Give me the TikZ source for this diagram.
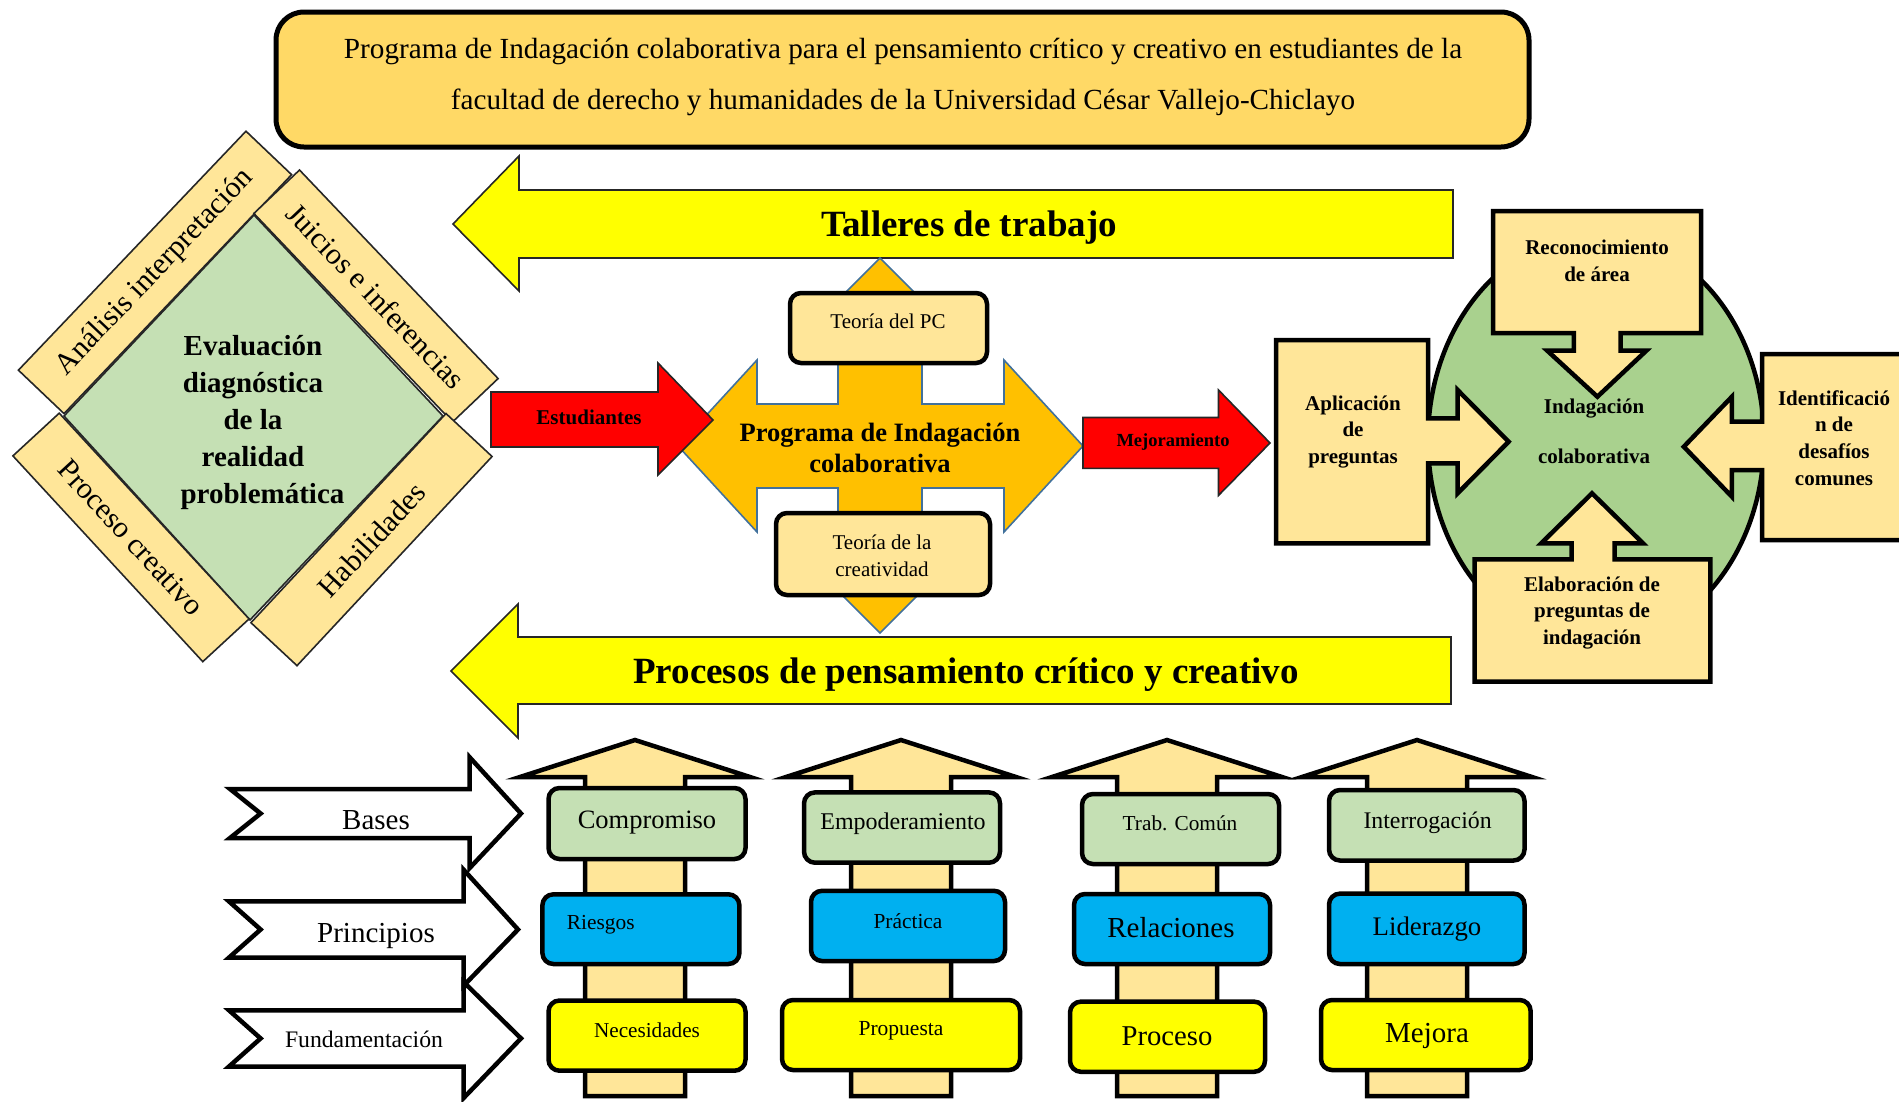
\documentclass[tikz,border=0pt]{standalone}
\usepackage{fontspec}
\setmainfont{Liberation Serif}
\usepackage{tikz}
\usetikzlibrary{positioning}
\definecolor{titlefill}{HTML}{FFD966}
\definecolor{band}{HTML}{FFE699}
\definecolor{banner}{HTML}{FFFF00}
\definecolor{cross}{HTML}{FFC000}
\definecolor{crossline}{HTML}{41719C}
\definecolor{alert}{HTML}{FF0000}
\definecolor{sage}{HTML}{C5E0B4}
\definecolor{leaf}{HTML}{A9D18E}
\definecolor{sky}{HTML}{00B0F0}
\tikzset{
  outline/.style={draw=black!85, line width=1.6pt},
  heavy/.style={draw=black, line width=4.5pt},
  strip/.style={outline, fill=band, minimum height=63pt, inner sep=0pt, font=\fontsize{30}{36}\selectfont},
  roundbox/.style={heavy, rounded corners=11pt},
  calltext/.style={align=center, font=\bfseries\fontsize{21}{26.6}\selectfont},
}

\begin{document}
\begin{tikzpicture}[x=1pt, y=-1pt]
  \useasboundingbox (0,0) rectangle (1899,1101);

  % ---------- Title ----------

  \draw[line width=5pt, fill=titlefill, rounded corners=28pt] (276,12) rectangle (1529,147);
  \node[align=center, font=\fontsize{29.2}{51}\selectfont] at (903,77) (title) {Programa de Indagación colaborativa para el pensamiento crítico y creativo en estudiantes de la\\facultad de derecho y humanidades de la Universidad César Vallejo-Chiclayo};

  % ---------- Banners ----------

  % Shapes
  \draw[outline, fill=banner] (453,224) -- (519,156) -- (519,190) -- (1453,190) -- (1453,258) -- (519,258) -- (519,291) -- cycle;
  \draw[outline, fill=banner] (451,671) -- (518,604) -- (518,637) -- (1451,637) -- (1451,704) -- (518,704) -- (518,738) -- cycle;

  % Labels
  \node[font=\bfseries\fontsize{37}{44}\selectfont] at (969,228) (talleres) {Talleres de trabajo};
  \node[font=\bfseries\fontsize{37}{44}\selectfont] at (966,675) (procesos) {Procesos de pensamiento crítico y creativo};

  % ---------- Left side (diamond) ----------

  % Shapes
  \draw[outline, fill=sage] (254,215) -- (443,416) -- (250,620) -- (64,416) -- cycle;
  \node[strip, rotate=46.4, minimum width=330pt] at (155,272.4) (analisis) {Análisis interpretación};
  \node[strip, rotate=-46.4, minimum width=288pt] at (376,296) (juicios) {Juicios e inferencias};
  \node[strip, rotate=-47.3, minimum width=280pt] at (131,537.4) (creativo) {Proceso creativo};
  \node[strip, rotate=47, minimum width=286pt] at (371.5,539.6) (habilidades) {Habilidades};

  % Labels
  \node[align=center, font=\bfseries\fontsize{29}{37}\selectfont] at (253,423) (evaluacion) {Evaluación\\diagnóstica\\de la\\realidad\\\hspace*{19pt}problemática};

  % ---------- Middle (programa) ----------

  % Shapes
  \draw[line width=1.6pt, draw=crossline, fill=cross] (678,446) -- (757,360) -- (757,404) -- (838,404) -- (838,344) -- (794,344) -- (880,258) -- (966,344) -- (922,344) -- (922,404) -- (1004,404) -- (1004,360) -- (1083,446) -- (1004,532) -- (1004,488) -- (922,488) -- (922,547) -- (966,547) -- (880,633) -- (794,547) -- (838,547) -- (838,488) -- (757,488) -- (757,532) -- cycle;
  \draw[roundbox, fill=band] (790,293) rectangle (987,363);
  \draw[roundbox, fill=band] (776,513) rectangle (990,595);
  \draw[outline, fill=alert] (491,392) -- (658,392) -- (658,363) -- (713,420) -- (658,475) -- (658,447) -- (491,447) -- cycle;
  \draw[outline, fill=alert] (1083,417.5) -- (1218.5,417.5) -- (1218.5,390) -- (1270,443) -- (1218.5,495.4) -- (1218.5,468.4) -- (1083,468.4) -- cycle;

  % Labels
  \node[align=center, font=\bfseries\fontsize{26.5}{31}\selectfont] at (880,448) (programa) {Programa de Indagación\\colaborativa};
  \node[font=\fontsize{21}{26}\selectfont] at (888,321) (teoriapc) {Teoría del PC};
  \node[align=center, font=\fontsize{21}{26.5}\selectfont] at (882,556) (teoriacre) {Teoría de la\\creatividad};
  \node[font=\bfseries\fontsize{21}{26}\selectfont] at (589,417) (estudiantes) {Estudiantes};
  \node[font=\bfseries\fontsize{18.5}{23}\selectfont] at (1173,442) (mejoramiento) {Mejoramiento};

  % ---------- Right side (indagacion) ----------

  % Shapes
  \draw[heavy, fill=leaf] (1596,440) ellipse [x radius=168pt, y radius=205pt];
  \draw[heavy, fill=band] (1493,211) -- (1701,211) -- (1701,333) -- (1620.6,333) -- (1620.6,350.7) -- (1646.3,350.7) -- (1597.4,396.7) -- (1547.3,350.7) -- (1573.8,350.7) -- (1573.8,333) -- (1493,333) -- cycle;
  \draw[heavy, fill=band] (1276,340) -- (1428,340) -- (1428,418.3) -- (1457.6,418.3) -- (1457.6,390) -- (1508.6,441.7) -- (1457.6,493.3) -- (1457.6,463.3) -- (1428,463.3) -- (1428,543.3) -- (1276,543.3) -- cycle;
  \draw[heavy, fill=band] (1910,354) -- (1762,354) -- (1762,421.7) -- (1731.9,421.7) -- (1731.9,396.7) -- (1683.8,446.7) -- (1731.9,496.7) -- (1731.9,470) -- (1762,470) -- (1762,540) -- (1910,540);
  \draw[heavy, fill=band] (1474.7,681.7) -- (1474.7,559.3) -- (1571.7,559.3) -- (1571.7,543.3) -- (1541.2,543.3) -- (1592,493.3) -- (1643,543.3) -- (1614.5,543.3) -- (1614.5,559.3) -- (1710.3,559.3) -- (1710.3,681.7) -- cycle;

  % Labels
  \node[calltext] at (1597,261) (reconocimiento) {Reconocimiento\\de área};
  \node[calltext] at (1353,432) (aplicacion) {Aplicación\\de\\preguntas};
  \node[calltext] at (1834,438) (identificacion) {Identificació\\n de\\desafíos\\comunes};
  \node[calltext] at (1592,613) (elaboracion) {Elaboración de\\preguntas de\\indagación};
  \node[align=center, font=\bfseries\fontsize{21}{50}\selectfont] at (1594,431) (indagacion) {Indagación\\colaborativa};

  % ---------- Bottom (columns) ----------

  % Shapes
  \draw[heavy, fill=white] (230,789) -- (469.7,789) -- (469.7,757.3) -- (521,813.5) -- (469.7,868) -- (469.7,838) -- (230,838) -- (260.6,813.5) -- cycle;
  \draw[heavy, fill=white] (229,901.4) -- (463.6,901.4) -- (463.6,869.7) -- (518,929.5) -- (463.6,985.7) -- (463.6,957.6) -- (229,957.6) -- (260.6,929.5) -- cycle;
  \draw[heavy, fill=white] (229,1010.3) -- (463.6,1010.3) -- (463.6,982) -- (521,1038.4) -- (463.6,1098) -- (463.6,1066.5) -- (229,1066.5) -- (260.6,1038.4) -- cycle;

  \draw[heavy, fill=band] (635,740) -- (750,777) -- (685,777) -- (685,1096) -- (585,1096) -- (585,777) -- (520,777) -- cycle;
  \draw[heavy, fill=band] (901,740) -- (1016,777) -- (951,777) -- (951,1096) -- (851,1096) -- (851,777) -- (786,777) -- cycle;
  \draw[heavy, fill=band] (1167,740) -- (1282,777) -- (1217,777) -- (1217,1096) -- (1117,1096) -- (1117,777) -- (1052,777) -- cycle;
  \draw[heavy, fill=band] (1417,740) -- (1532,777) -- (1467,777) -- (1467,1096) -- (1367,1096) -- (1367,777) -- (1302,777) -- cycle;

  \draw[roundbox, fill=sage] (548.5,788) rectangle (745.5,859);
  \draw[roundbox, fill=sky] (542.4,894.3) rectangle (739.4,964);
  \draw[roundbox, fill=banner] (548.5,1000.5) rectangle (745.5,1070.7);
  \draw[roundbox, fill=sage] (804,792.4) rectangle (1000,862.7);
  \draw[roundbox, fill=sky] (811,890.8) rectangle (1005,961);
  \draw[roundbox, fill=banner] (782,1000) rectangle (1020,1070);
  \draw[roundbox, fill=sage] (1082,794) rectangle (1279,864);
  \draw[roundbox, fill=sky] (1074,894) rectangle (1270,964);
  \draw[roundbox, fill=banner] (1070,1001.6) rectangle (1265,1071.8);
  \draw[roundbox, fill=sage] (1329,790) rectangle (1524.5,860.5);
  \draw[roundbox, fill=sky] (1329,893.6) rectangle (1524.5,964);
  \draw[roundbox, fill=banner] (1321,1000) rectangle (1530.6,1070);

  % Labels
  \node[font=\fontsize{29}{34}\selectfont] at (376,820) (bases) {Bases};
  \node[font=\fontsize{29}{34}\selectfont] at (376,936) (principios) {Principios};
  \node[font=\fontsize{23.7}{28}\selectfont] at (364,1039) (fundamentacion) {Fundamentación};

  \node[font=\fontsize{26.5}{31}\selectfont] at (647,823) (compromiso) {Compromiso};
  \node[font=\fontsize{21.4}{26}\selectfont, anchor=west, inner sep=0pt] at (566.7,924.5) (riesgos) {Riesgos};
  \node[font=\fontsize{21.2}{26}\selectfont] at (647,1030) (necesidades) {Necesidades};
  \node[font=\fontsize{24}{29}\selectfont] at (903,824) (empoderamiento) {Empoderamiento};
  \node[font=\fontsize{21.4}{26}\selectfont] at (908,921) (practica) {Práctica};
  \node[font=\fontsize{21.5}{26}\selectfont] at (901,1031) (propuesta) {Propuesta};
  \node[font=\fontsize{21.3}{26}\selectfont] at (1180,823) (trabcomun) {Trab. Común};
  \node[font=\fontsize{29}{34}\selectfont] at (1171,928) (relaciones) {Relaciones};
  \node[font=\fontsize{28.7}{34}\selectfont] at (1167,1036) (procesobox) {Proceso};
  \node[font=\fontsize{23.8}{29}\selectfont] at (1427.6,823) (interrogacion) {Interrogación};
  \node[font=\fontsize{26.8}{32}\selectfont] at (1427,929) (liderazgo) {Liderazgo};
  \node[font=\fontsize{29}{34}\selectfont] at (1427,1036) (mejora) {Mejora};
\end{tikzpicture}
\end{document}
